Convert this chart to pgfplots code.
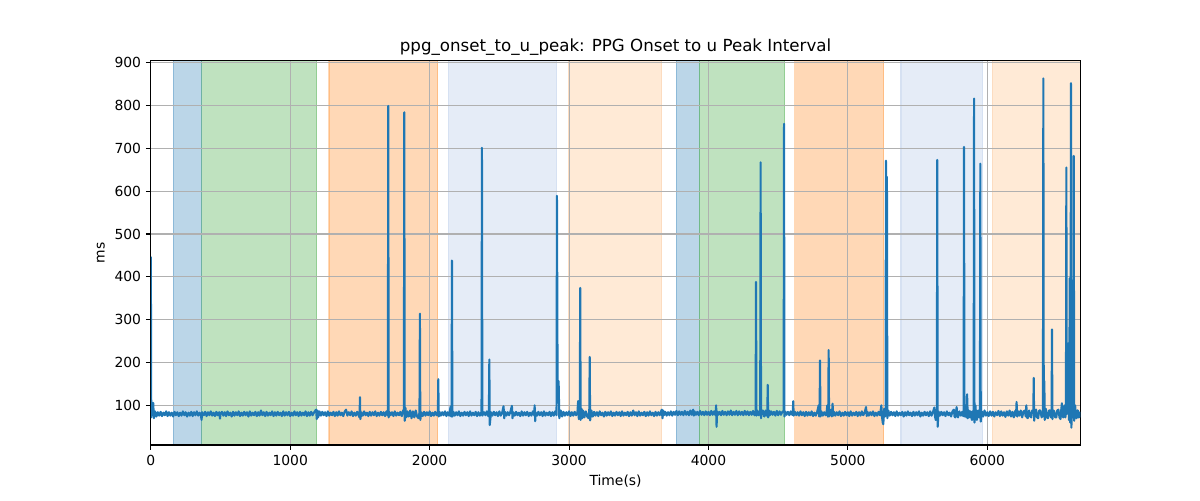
\documentclass[border=0pt]{standalone}
\usepackage{fontspec}
\setmainfont{DejaVu Sans}
\usepackage{pgfplots}
\pgfplotsset{compat=1.18}
\definecolor{tabblue}{RGB}{31,119,180}
\definecolor{tabgreen}{RGB}{44,160,44}
\definecolor{taborange}{RGB}{255,127,14}
\definecolor{gridgray}{RGB}{176,176,176}
\definecolor{lblue}{RGB}{229,236,247}
\definecolor{lblueedge}{RGB}{214,225,242}
\definecolor{lorange}{RGB}{255,234,214}
\definecolor{lorangeedge}{RGB}{252,220,192}
\begin{document}
\begin{tikzpicture}
\begin{axis}[
  set layers,
  at={(108.6pt,39.6pt)}, anchor=south west,
  scale only axis, width=669.2pt, height=276.6pt,
  xmin=0, xmax=6667, ymin=7.5, ymax=904,
  xtick={0,1000,2000,3000,4000,5000,6000},
  ytick={100,200,300,400,500,600,700,800,900},
  tick pos=left, tick align=outside, major tick length=3.5pt,
  tick style={black, line width=0.8pt},
  grid=major, grid style={color=gridgray, line width=0.8pt},
  axis line style={line width=0.8pt},
  tick label style={font=\fontsize{10}{12}\selectfont},
  /pgf/number format/assume math mode=true,
  scaled x ticks=false,
  xticklabel style={/pgf/number format/1000 sep={}},
  xlabel={Time(s)}, ylabel={ms},
  label style={font=\fontsize{10}{12}\selectfont},
  xlabel style={at={(axis description cs:0.5,-0.094)}, anchor=center},
  ylabel style={at={(axis description cs:-0.0538,0.5)}, anchor=center},
  title={ppg\_onset\_to\_u\_peak: PPG Onset to u Peak Interval},
  title style={font=\fontsize{12}{14}\selectfont, at={(axis description cs:0.5,1)}, anchor=base, yshift=1pt, inner sep=0pt},
]
% shaded intervals
\addplot[on layer=axis background, fill=tabblue, fill opacity=0.3, draw=tabblue, draw opacity=0.3, line width=0.8pt] coordinates {(160.7,7.5) (160.7,904) (364,904) (364,7.5)};
\addplot[on layer=axis background, fill=tabgreen, fill opacity=0.3, draw=tabgreen, draw opacity=0.3, line width=0.8pt] coordinates {(364,7.5) (364,904) (1189,904) (1189,7.5)};
\addplot[on layer=axis background, fill=taborange, fill opacity=0.3, draw=taborange, draw opacity=0.3, line width=0.8pt] coordinates {(1278,7.5) (1278,904) (2057,904) (2057,7.5)};
\addplot[on layer=axis background, fill=lblue, draw=lblueedge, line width=0.8pt] coordinates {(2138,7.5) (2138,904) (2913,904) (2913,7.5)};
\addplot[on layer=axis background, fill=lorange, draw=lorangeedge, line width=0.8pt] coordinates {(2997,7.5) (2997,904) (3664,904) (3664,7.5)};
\addplot[on layer=axis background, fill=tabblue, fill opacity=0.3, draw=tabblue, draw opacity=0.3, line width=0.8pt] coordinates {(3769,7.5) (3769,904) (3934,904) (3934,7.5)};
\addplot[on layer=axis background, fill=tabgreen, fill opacity=0.3, draw=tabgreen, draw opacity=0.3, line width=0.8pt] coordinates {(3934,7.5) (3934,904) (4547,904) (4547,7.5)};
\addplot[on layer=axis background, fill=taborange, fill opacity=0.3, draw=taborange, draw opacity=0.3, line width=0.8pt] coordinates {(4620,7.5) (4620,904) (5257,904) (5257,7.5)};
\addplot[on layer=axis background, fill=lblue, draw=lblueedge, line width=0.8pt] coordinates {(5381,7.5) (5381,904) (5967,904) (5967,7.5)};
\addplot[on layer=axis background, fill=lorange, draw=lorangeedge, line width=0.8pt] coordinates {(6039,7.5) (6039,904) (6667,904) (6667,7.5)};
% signal
\addplot[color=tabblue, line width=1.5pt, line join=round] coordinates {
(0,447)(3,72)(10,88)(17,106)(22,70)(30,86)(40,74)(50,84)(60,76)(70,85)(80,75)(90,83)(100,77)(110,86)(120,75)(130,84)(140,76)(150,83)(160,74)(170,85)(180,77)(190,84)(200,75)(210,83)(220,76)(230,86)(240,77)(250,84)(260,74)(270,83)(280,76)(290,85)(300,75)(310,84)(320,77)(330,86)(340,76)(350,83)(360,75)(364,66)(368,84)(380,77)(390,85)
(400,75)(410,84)(420,77)(430,86)(440,76)(450,83)(460,75)(470,85)(480,77)(490,84)(496,69)(500,80)(510,85)(520,76)(530,84)(540,75)(550,86)(560,77)(570,83)(580,74)(590,85)(600,76)(610,84)(620,77)(630,86)(640,75)(650,83)(660,76)(670,85)(680,77)(690,84)(700,74)(710,86)(720,76)(730,83)(740,77)(750,85)(760,75)(770,84)(780,76)(790,88)(800,77)(810,84)(820,75)(830,85)(840,76)(850,83)(860,77)(870,86)(880,75)(890,84)(900,76)(910,85)(920,77)(930,83)(940,75)(950,86)(960,76)(970,84)(980,77)(990,85)(1000,75)(1010,83)(1020,76)(1030,86)(1040,77)(1050,84)(1060,75)(1070,85)(1080,76)(1090,83)(1100,77)(1110,86)(1120,75)(1130,84)(1140,76)(1150,85)(1160,77)(1170,83)(1180,88)(1186,90)(1190,68)(1195,88)(1200,72)(1210,86)
(1220,76)(1230,85)(1240,77)(1250,84)(1260,75)(1270,86)(1280,76)(1290,83)(1300,77)(1310,85)(1320,75)(1330,84)(1340,76)(1350,86)(1360,77)(1370,83)(1380,75)(1390,85)(1400,90)(1410,76)(1420,84)(1430,77)(1440,86)(1450,75)(1460,83)(1470,76)(1480,85)(1490,77)(1497,72)(1500,119)(1503,68)(1510,84)(1520,76)(1530,86)(1540,77)(1550,83)(1560,75)(1570,85)(1580,76)(1590,84)(1600,77)(1610,86)(1620,75)(1630,83)(1640,76)(1650,85)(1660,77)(1670,84)(1680,75)(1690,86)(1700,76)(1703,799)(1706,72)(1710,85)(1720,77)(1730,84)(1740,75)(1750,86)(1760,76)(1770,83)(1780,77)(1790,85)(1800,75)(1810,88)(1815,90)(1818,784)(1821,64)(1826,95)(1832,72)(1840,86)(1850,74)(1860,88)(1870,70)(1880,86)(1890,72)(1900,88)(1910,74)(1920,70)(1927,84)(1930,314)(1933,66)(1940,84)(1950,75)(1960,85)(1970,76)(1980,84)(1990,77)(2000,86)(2010,75)(2020,83)(2030,76)(2040,85)(2050,77)(2059,84)(2062,161)(2065,74)(2070,85)(2080,76)(2090,84)(2100,77)
(2110,86)(2120,75)(2130,84)(2140,76)(2150,97)(2155,74)(2157,84)(2160,438)(2163,74)(2170,85)(2180,76)(2190,84)(2200,77)(2210,86)(2220,75)(2230,83)(2240,76)(2250,85)(2260,77)(2270,84)(2280,75)(2290,86)(2300,76)(2310,83)(2320,77)(2330,85)(2340,75)(2350,84)(2360,76)(2372,85)(2375,701)(2378,76)(2390,84)(2400,77)(2410,86)(2420,75)(2425,88)(2428,207)(2431,54)(2440,84)(2450,76)(2460,85)(2470,77)(2480,84)(2490,75)(2500,86)(2510,76)(2520,83)(2530,98)(2535,70)(2540,85)(2550,76)(2560,84)(2570,77)(2580,86)(2590,99)(2594,70)(2600,84)(2610,76)(2620,85)(2630,77)(2640,83)(2650,75)(2660,86)(2670,76)(2680,84)(2690,77)(2700,85)(2710,75)(2720,83)(2730,76)(2740,86)(2750,77)(2753,100)(2757,63)(2760,84)(2770,76)(2780,85)(2790,77)(2800,84)(2810,75)(2820,86)(2830,76)(2840,83)(2850,77)(2860,85)(2870,75)(2880,84)(2890,76)(2900,86)(2910,77)(2913,589)(2918,120)(2925,157)(2930,70)(2940,88)(2950,74)(2960,85)(2970,76)(2980,84)(2990,77)(3000,86)
(3010,75)(3020,84)(3030,76)(3040,85)(3050,77)(3060,84)(3065,110)(3070,68)(3077,87)(3080,374)(3083,66)(3090,92)(3095,70)(3100,88)(3110,72)(3120,86)(3130,74)(3140,70)(3145,90)(3148,213)(3151,65)(3160,88)(3170,74)(3180,85)(3190,76)(3200,84)(3210,75)(3220,86)(3230,77)(3240,83)(3250,74)(3260,85)(3270,76)(3280,84)(3290,77)(3300,86)(3310,75)(3320,83)(3330,76)(3340,85)(3350,77)(3360,84)(3370,75)(3380,86)(3390,76)(3400,83)(3410,77)(3420,85)(3430,75)(3440,84)(3450,76)(3460,88)(3470,77)(3480,84)(3490,75)(3500,86)(3510,76)(3520,83)(3530,77)(3540,85)(3550,75)(3560,84)(3570,76)(3580,86)(3590,77)(3600,83)(3610,75)(3620,85)(3630,76)(3640,84)(3650,77)(3660,86)(3665,90)(3670,70)(3675,88)(3680,77)(3690,85)(3700,76)(3710,84)(3720,77)(3730,86)(3740,76)
(3750,85)(3760,78)(3770,87)(3780,77)(3790,86)(3800,78)(3810,85)(3820,77)(3830,87)(3840,78)(3850,85)(3860,77)(3870,88)(3880,78)(3890,90)(3895,76)(3900,86)(3910,78)(3920,85)(3930,77)(3940,87)(3950,78)(3960,85)(3970,77)(3980,86)(3990,78)(4000,85)(4010,77)(4020,87)(4030,78)(4040,86)(4050,77)(4055,100)(4058,50)(4062,86)(4070,78)(4080,85)(4090,77)(4100,87)(4110,78)(4120,85)(4130,77)(4140,86)(4150,78)(4160,88)(4170,77)(4180,85)(4190,78)(4200,87)(4210,77)(4220,86)(4230,78)(4240,85)(4250,77)(4260,87)(4270,78)(4280,86)(4290,77)(4300,85)(4310,78)(4320,87)(4330,77)(4338,86)(4341,388)(4344,76)(4350,88)(4360,77)(4371,88)(4374,667)(4377,70)(4383,86)(4390,88)(4400,74)(4410,88)(4416,76)(4422,86)(4425,148)(4428,72)(4435,88)(4440,77)(4450,86)(4460,78)(4470,85)(4480,76)(4490,87)(4500,77)(4510,86)(4520,78)(4530,85)(4539,86)(4542,757)(4545,74)(4550,86)(4560,78)(4570,85)(4580,77)(4590,86)(4600,78)(4605,86)(4608,110)(4611,76)(4620,85)
(4630,77)(4640,84)(4650,76)(4660,86)(4670,77)(4680,84)(4690,75)(4700,85)(4710,76)(4720,84)(4730,77)(4740,86)(4750,75)(4760,83)(4770,76)(4780,85)(4790,100)(4794,74)(4797,84)(4800,205)(4803,74)(4810,86)(4820,76)(4830,84)(4840,77)(4848,86)(4852,100)(4856,74)(4859,84)(4862,229)(4865,74)(4872,86)(4880,90)(4885,74)(4890,104)(4895,76)(4900,85)(4910,76)(4920,84)(4930,77)(4940,86)(4950,75)(4960,83)(4970,76)(4980,85)(4990,77)(5000,84)(5010,75)(5020,86)(5030,76)(5040,83)(5050,77)(5060,85)(5070,75)(5080,84)(5090,76)(5100,86)(5110,77)(5120,83)(5130,96)(5135,75)(5140,85)(5150,76)(5160,84)(5170,77)(5180,86)(5190,75)(5200,83)(5210,76)(5220,85)(5230,77)(5240,100)(5245,72)(5250,60)(5254,56)(5260,92)(5266,74)(5270,86)(5273,671)(5276,86)(5280,633)(5283,70)(5290,88)(5300,76)
(5310,85)(5320,77)(5330,84)(5340,75)(5350,86)(5360,76)(5370,83)(5380,77)(5390,85)(5400,74)(5410,84)(5420,76)(5430,86)(5440,77)(5450,83)(5460,75)(5470,85)(5480,76)(5490,84)(5500,77)(5510,86)(5520,74)(5530,83)(5540,76)(5550,85)(5560,77)(5570,84)(5580,75)(5590,86)(5600,76)(5610,84)(5620,95)(5625,74)(5630,66)(5635,86)(5638,84)(5641,673)(5644,50)(5650,86)(5660,76)(5670,85)(5680,77)(5690,84)(5700,75)(5710,86)(5720,77)(5730,83)(5740,74)(5750,86)(5760,90)(5765,74)(5770,72)(5780,96)(5785,76)(5790,72)(5800,86)(5810,76)(5820,85)(5827,75)(5830,86)(5833,703)(5836,74)(5840,86)(5845,88)(5850,72)(5855,126)(5860,70)(5867,88)(5874,72)(5880,86)(5885,72)(5890,66)(5896,86)(5902,87)(5905,816)(5908,60)(5912,88)(5915,100)(5920,72)(5925,66)(5930,86)(5935,88)(5941,72)(5947,84)(5950,664)(5953,62)(5960,86)(5970,74)(5980,88)(5990,76)(6000,84)
(6010,75)(6020,86)(6030,76)(6040,85)(6050,74)(6060,84)(6070,77)(6080,87)(6090,75)(6100,86)(6110,76)(6120,84)(6130,73)(6140,86)(6150,76)(6160,88)(6170,74)(6180,85)(6190,72)(6200,87)(6206,76)(6210,108)(6215,74)(6222,86)(6230,76)(6240,88)(6250,72)(6260,86)(6270,88)(6275,74)(6280,100)(6285,72)(6290,70)(6300,88)(6308,74)(6315,72)(6322,88)(6330,86)(6333,164)(6336,64)(6343,88)(6350,90)(6357,72)(6365,70)(6372,88)(6380,88)(6390,72)(6399,80)(6402,863)(6405,74)(6409,157)(6412,66)(6416,88)(6420,92)(6427,72)(6435,70)(6442,88)(6450,88)(6456,72)(6461,80)(6464,277)(6467,68)(6474,88)(6480,86)(6487,72)(6495,72)(6502,88)(6510,90)(6518,72)(6525,68)(6530,88)(6535,105)(6540,74)(6545,72)(6550,90)(6555,100)(6560,72)(6564,84)(6567,655)(6570,80)(6573,96)(6576,104)(6579,80)(6582,245)(6585,66)(6588,100)(6591,397)(6594,60)(6597,90)(6600,852)(6603,48)(6608,98)(6614,72)(6617,90)(6620,682)(6623,64)(6630,100)(6635,74)(6640,70)(6645,88)(6650,88)(6655,72)(6660,73)(6667,85)
};
\end{axis}
\pgfresetboundingbox
\path[use as bounding box] (0,0) rectangle (864pt,360pt);
\end{tikzpicture}
\end{document}
